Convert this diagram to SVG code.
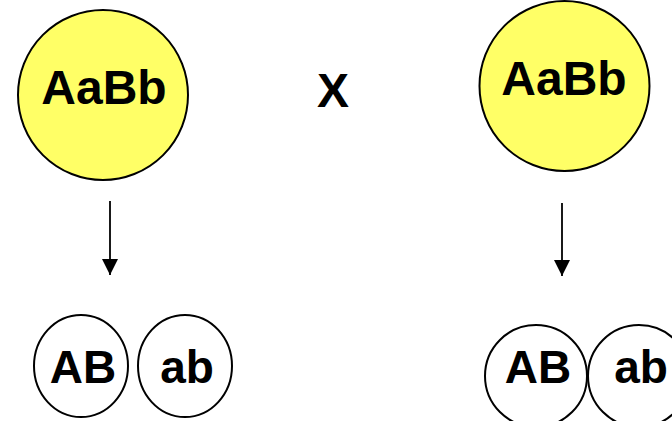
<svg xmlns="http://www.w3.org/2000/svg" width="672" height="421" viewBox="0 0 672 421">
<defs>
<marker id="ah" markerWidth="16" markerHeight="16" viewBox="0 0 16 16" refX="16" refY="8" orient="auto" markerUnits="userSpaceOnUse">
<path d="M0,0 L16,8 L0,16 Z" fill="#000"/>
</marker>
</defs>
<style>
.big{fill:#ffff66;stroke:#000;stroke-width:2}
.small{fill:#fff;stroke:#000;stroke-width:2}
text{font-family:"Liberation Sans",Arial,sans-serif;font-weight:bold;font-size:48px;text-anchor:middle;fill:#000}
.g{font-size:46px}
.conn{stroke:#000;stroke-width:1.8;fill:none}
</style>
<rect width="672" height="421" fill="#fff"/>
<g id="parent1"><circle class="big" cx="103" cy="95" r="85"/><text x="104" y="104">AaBb</text></g>
<g id="parent2"><circle class="big" cx="564.5" cy="86" r="85"/><text x="564" y="95">AaBb</text></g>
<g id="cross"><text x="333" y="107">X</text></g>
<g id="g1AB"><ellipse class="small" cx="81" cy="366" rx="47" ry="51"/><text class="g" x="83" y="383">AB</text></g>
<g id="g1ab"><ellipse class="small" cx="185" cy="366" rx="47" ry="51"/><text class="g" x="187" y="383">ab</text></g>
<g id="g2AB"><ellipse class="small" cx="536" cy="376" rx="51" ry="51"/><text class="g" x="538" y="383">AB</text></g>
<g id="g2ab"><ellipse class="small" cx="639" cy="376" rx="51" ry="51"/><text class="g" x="641" y="383">ab</text></g>
<g id="connectors">
<line class="conn" x1="110" y1="201" x2="110" y2="275" marker-end="url(#ah)"/>
<line class="conn" x1="562" y1="203" x2="562" y2="276" marker-end="url(#ah)"/>
</g>
</svg>
